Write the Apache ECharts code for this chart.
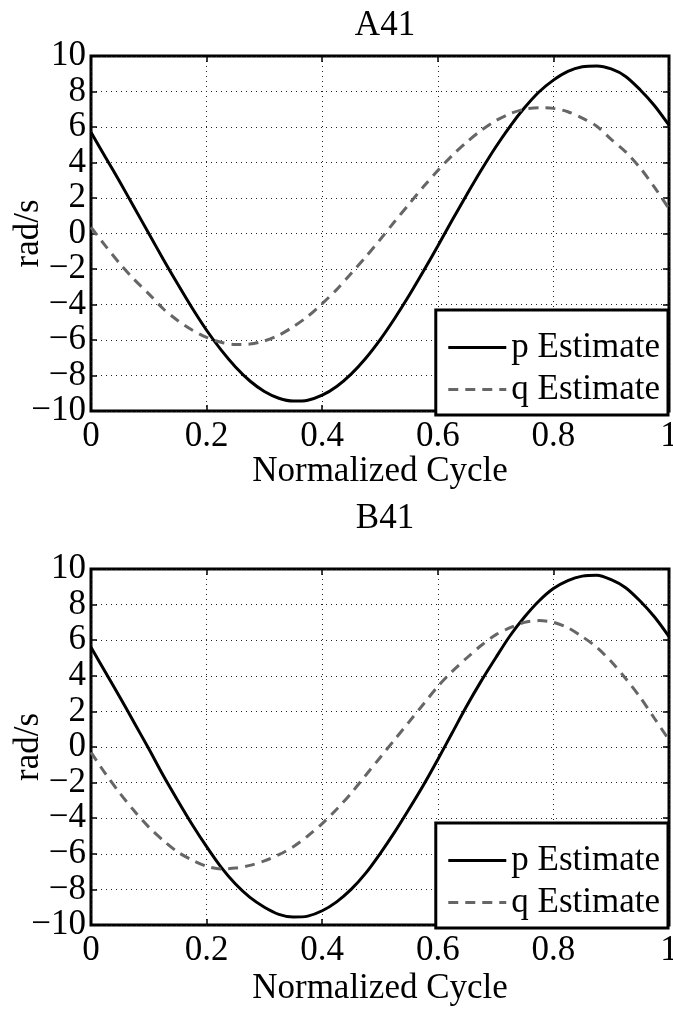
<!DOCTYPE html>
<html>
<head>
<meta charset="utf-8">
<script src="https://cdn.jsdelivr.net/npm/echarts@6/dist/echarts.min.js"></script>
<style>html,body{margin:0;padding:0;background:#fff;}#c{width:673px;height:1013px;}</style>
</head>
<body>
<div id="c"></div>
<script>
var xVals = [0,0.025,0.05,0.075,0.1,0.125,0.15,0.175,0.2,0.225,0.25,0.275,0.3,0.325,0.35,0.375,0.4,0.425,0.45,0.475,0.5,
             0.525,0.55,0.575,0.6,0.625,0.65,0.675,0.7,0.725,0.75,0.775,0.8,0.825,0.85,0.875,0.9,0.925,0.95,0.975,1.0];
var pA = [5.7,4.3,2.9,1.45,0.0,-1.45,-2.85,-4.2,-5.45,-6.56,-7.52,-8.31,-8.9,-9.28,-9.44,-9.39,-9.11,-8.62,-7.92,-7.04,-5.99,
          -4.8,-3.51,-2.13,-0.7,0.76,2.18,3.56,4.86,6.04,7.08,7.97,8.64,9.13,9.39,9.44,9.27,8.85,8.1,7.2,6.1];
var qA = [0.35,-0.7,-1.7,-2.6,-3.4,-4.24,-4.9,-5.44,-5.85,-6.13,-6.25,-6.23,-6.05,-5.73,-5.25,-4.67,-3.95,-3.16,-2.25,-1.33,-0.35,
          0.66,1.65,2.63,3.55,4.4,5.15,5.81,6.35,6.75,7.0,7.09,7.05,6.86,6.5,6.04,5.3,4.6,3.7,2.6,1.4];
var pB = [5.6,4.2,2.8,1.35,-0.1,-1.6,-3.0,-4.35,-5.6,-6.75,-7.7,-8.45,-9.0,-9.4,-9.55,-9.5,-9.2,-8.7,-8.0,-7.1,-6.0,
          -4.8,-3.5,-2.15,-0.7,0.8,2.3,3.7,5.0,6.25,7.3,8.2,8.9,9.35,9.6,9.65,9.4,8.95,8.2,7.3,6.2];
var qB = [-0.3,-1.5,-2.6,-3.6,-4.5,-5.25,-5.9,-6.35,-6.7,-6.85,-6.8,-6.65,-6.4,-6.05,-5.6,-5.0,-4.3,-3.5,-2.6,-1.6,-0.6,
          0.4,1.4,2.4,3.4,4.25,5.0,5.7,6.3,6.7,7.0,7.1,7.0,6.7,6.2,5.6,4.8,3.85,2.8,1.6,0.4];
var titles = ['A41','B41'];
var seriesNames = ['p Estimate','q Estimate'];
var xName = 'Normalized Cycle';
var yName = 'rad/s';

var FONT = '"Liberation Serif","Times New Roman",serif';
var FS = 35;
var chart = echarts.init(document.getElementById('c'));
var grids = [
  {left:91, top:56, width:578, height:355},
  {left:91, top:569, width:578, height:356}
];
function fmtNum(v){ return String(v).replace('-', '\u2212'); }
var tickStyle = {show:true, inside:true, length:6, lineStyle:{color:'#000', width:1.5}};
var gridLine = {show:true, lineStyle:{color:'#222', width:1, type:[1,4]}};
var xAxes = [], yAxes = [], series = [], legends = [];
grids.forEach(function(g, gi){
  g.show = true; g.borderColor = '#000'; g.borderWidth = 3; g.backgroundColor = '#fff';
  g.outerBoundsMode = 'none'; g.containLabel = false;
  xAxes.push({type:'value', gridIndex:gi, min:0, max:1, interval:0.2, position:'bottom',
    name:xName, nameLocation:'middle', nameGap: gi===0 ? 43 : 46, nameMoveOverlap:false,
    nameTextStyle:{fontFamily:FONT, fontSize:FS, color:'#000'},
    axisLine:{show:false, onZero:false}, axisTick:tickStyle,
    axisLabel:{fontFamily:FONT, fontSize:FS, color:'#000', margin:8, formatter:fmtNum},
    splitLine:gridLine});
  xAxes.push({type:'value', gridIndex:gi, min:0, max:1, interval:0.2, position:'top',
    axisLine:{show:false, onZero:false}, axisTick:tickStyle,
    axisLabel:{show:false}, splitLine:{show:false}});
  yAxes.push({type:'value', gridIndex:gi, min:-10, max:10, interval:2, position:'left',
    name:yName, nameLocation:'middle', nameGap:45, nameRotate:90, nameMoveOverlap:false,
    nameTextStyle:{fontFamily:FONT, fontSize:FS, color:'#000'},
    axisLine:{show:false, onZero:false}, axisTick:tickStyle,
    axisLabel:{fontFamily:FONT, fontSize:FS, color:'#000', margin:5, formatter:fmtNum},
    splitLine:gridLine});
  yAxes.push({type:'value', gridIndex:gi, min:-10, max:10, interval:2, position:'right',
    axisLine:{show:false, onZero:false}, axisTick:tickStyle,
    axisLabel:{show:false}, splitLine:{show:false}});
  var pv = gi === 0 ? pA : pB;
  var qv = gi === 0 ? qA : qB;
  series.push({type:'line', name:seriesNames[0], xAxisIndex:gi*2, yAxisIndex:gi*2, smooth:0.3,
    symbol:'none',
    data:xVals.map(function(x,i){return [x, pv[i]];}),
    lineStyle:{color:'#000', width:3}, itemStyle:{color:'#000'}, z:3});
  series.push({type:'line', name:seriesNames[1], xAxisIndex:gi*2, yAxisIndex:gi*2, smooth:0.3,
    symbol:'none',
    data:xVals.map(function(x,i){return [x, qv[i]];}),
    lineStyle:{color:'#666', width:3, type:[10,7]}, itemStyle:{color:'#666'}, z:3});
  legends.push({orient:'vertical', right:5, top: g.top + 254,
    data:seriesNames, backgroundColor:'#fff', borderColor:'#000', borderWidth:3, borderRadius:0,
    padding:[20,8,8,11], itemGap:7, itemWidth:58, itemHeight:14,
    itemStyle:{opacity:0}, lineStyle:{width:3, type:'inherit', color:'inherit', opacity:1},
    textStyle:{fontFamily:FONT, fontSize:FS, color:'#000', lineHeight:32},
    selectedMode:false, z:10});
});
var titleList = titles.map(function(t, i){
  return {text:t, left:380, textAlign:'center', top: i===0 ? 3 : 496,
    textStyle:{fontFamily:FONT, fontSize:FS, fontWeight:'normal', color:'#000'}};
});
chart.setOption({
  animation:false,
  title:titleList,
  grid:grids,
  xAxis:xAxes,
  yAxis:yAxes,
  legend:legends,
  series:series
});
</script>
</body>
</html>
